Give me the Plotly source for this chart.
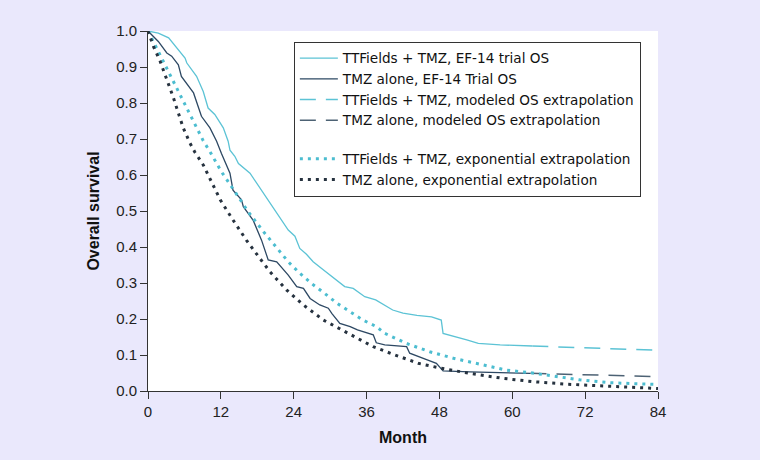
import plotly.graph_objects as go

# ---- data ----
ttf_trial_month = [0, 1.7, 3.4, 5.0, 5.8, 6.1, 6.4, 8.0, 9.1, 9.9, 11.0, 12.4, 13.2, 13.5, 14.3, 14.9,
                   16.8, 18.2, 19.5, 20.6, 21.7, 23.1, 24.2, 25.0, 26.1, 27.2, 28.6, 30.0, 31.4, 32.4,
                   33.8, 35.0, 35.7, 37.5, 39.5, 40.3, 42.0, 44.3, 46.7, 48.1, 48.3, 48.6, 50.8, 52.5,
                   54.4, 58.0, 63.3]
ttf_trial_os = [1.0, 0.994, 0.981, 0.948, 0.93, 0.925, 0.911, 0.874, 0.832, 0.786, 0.768, 0.731, 0.694,
                0.669, 0.652, 0.632, 0.605, 0.57, 0.54, 0.51, 0.484, 0.447, 0.43, 0.396, 0.38, 0.359,
                0.34, 0.322, 0.305, 0.29, 0.285, 0.27, 0.262, 0.253, 0.234, 0.225, 0.216, 0.21, 0.206,
                0.2, 0.197, 0.16, 0.151, 0.142, 0.132, 0.128, 0.125]

tmz_trial_month = [0, 1.7, 3.1, 3.9, 5.0, 5.5, 7.5, 8.8, 10.2, 11.3, 12.1, 13.5, 14.0, 15.4, 15.7,
                   17.3, 18.7, 19.3, 19.8, 21.2, 23.1, 24.5, 25.6, 26.7, 28.3, 29.7, 30.3, 31.6, 33.3,
                   34.5, 36.0, 37.1, 37.6, 39.0, 42.6, 43.1, 46.1, 47.5, 48.6, 53.0, 63.0]
tmz_trial_os = [1.0, 0.971, 0.939, 0.93, 0.906, 0.874, 0.828, 0.763, 0.731, 0.694, 0.66, 0.605, 0.558,
                0.531, 0.512, 0.475, 0.419, 0.387, 0.364, 0.359, 0.322, 0.29, 0.285, 0.257, 0.239,
                0.23, 0.215, 0.188, 0.179, 0.17, 0.162, 0.156, 0.134, 0.128, 0.123, 0.105, 0.086,
                0.077, 0.056, 0.053, 0.049]

ttf_model_month = [63.3, 73.0, 84.0]
ttf_model_os = [0.125, 0.119, 0.113]

tmz_model_month = [63.0, 73.0, 84.0]
tmz_model_os = [0.049, 0.045, 0.040]

ttf_exp_month = [0, 1.5, 3.0, 4.5, 6.4, 8.1, 9.1, 10.2, 12.1, 14.3, 16.5, 19.0, 21.4, 23.1, 25.0, 26.9,
                 29.1, 31.1, 33.3, 35.4, 37.6, 39.0, 42.6, 46.4, 50.3, 54.1, 59.0, 62.9, 66.7, 71.1,
                 76.0, 84.0]
ttf_exp_os = [1.0, 0.95, 0.898, 0.848, 0.785, 0.727, 0.695, 0.665, 0.609, 0.554, 0.498, 0.443, 0.394,
              0.359, 0.327, 0.299, 0.271, 0.244, 0.22, 0.197, 0.179, 0.16, 0.132, 0.109, 0.091, 0.077,
              0.058, 0.051, 0.042, 0.031, 0.023, 0.018]

tmz_exp_month = [0, 0.9, 2.0, 3.35, 4.2, 5.0, 5.8, 6.9, 7.7, 9.1, 10.2, 11.9, 14.0, 16.2, 18.4, 20.1,
                 22.8, 25.6, 28.9, 32.1, 34.6, 37.1, 40.7, 44.5, 48.3, 53.0, 58.5, 63.4, 68.9, 75.5, 84.0]
tmz_exp_os = [1.0, 0.957, 0.916, 0.856, 0.814, 0.772, 0.731, 0.689, 0.664, 0.628, 0.591, 0.531, 0.475,
              0.419, 0.369, 0.331, 0.281, 0.239, 0.197, 0.169, 0.146, 0.123, 0.1, 0.077, 0.063, 0.049,
              0.035, 0.026, 0.019, 0.014, 0.007]

x_ticks = [0, 12, 24, 36, 48, 60, 72, 84]

# ---- styles ----
BG = "#eae8fc"
CYAN = "#5cc3d5"
NAVY = "#2d4863"
CYAN_DOT = "#4cbdd0"
NAVY_DOT = "#26323f"
NAVY_DASH = "#4d6274"
FONT = "Liberation Sans, Arial, Helvetica, sans-serif"
LEGEND_FONT = "DejaVu Sans, Liberation Sans, Arial, sans-serif"

fig = go.Figure()
fig.add_trace(go.Scatter(x=ttf_trial_month, y=ttf_trial_os, mode="lines",
                         name="TTFields + TMZ, EF-14 trial OS", legendgroup="a",
                         line=dict(color=CYAN, width=1.3)))
fig.add_trace(go.Scatter(x=tmz_trial_month, y=tmz_trial_os, mode="lines",
                         name="TMZ alone, EF-14 Trial OS", legendgroup="a",
                         line=dict(color=NAVY, width=1.3)))
fig.add_trace(go.Scatter(x=ttf_model_month, y=ttf_model_os, mode="lines",
                         name="TTFields + TMZ, modeled OS extrapolation", legendgroup="a",
                         line=dict(color=CYAN, width=1.5, dash="16px,10px")))
fig.add_trace(go.Scatter(x=tmz_model_month, y=tmz_model_os, mode="lines",
                         name="TMZ alone, modeled OS extrapolation", legendgroup="a",
                         line=dict(color=NAVY_DASH, width=1.5, dash="16px,10px")))
fig.add_trace(go.Scatter(x=ttf_exp_month, y=ttf_exp_os, mode="lines",
                         name="TTFields + TMZ, exponential extrapolation", legendgroup="b",
                         line=dict(color=CYAN_DOT, width=3, dash="3px,5px")))
fig.add_trace(go.Scatter(x=tmz_exp_month, y=tmz_exp_os, mode="lines",
                         name="TMZ alone, exponential extrapolation", legendgroup="b",
                         line=dict(color=NAVY_DOT, width=3, dash="3px,5px")))

fig.update_layout(
    width=760, height=460,
    margin=dict(l=148, r=102, t=31, b=69),
    paper_bgcolor=BG,
    plot_bgcolor="#ffffff",
    font=dict(family=FONT, size=15, color="#222222"),
    showlegend=True,
    legend=dict(x=0.286, y=0.97, xanchor="left", yanchor="top",
                bgcolor="#ffffff", bordercolor="#333333", borderwidth=1,
                font=dict(family=LEGEND_FONT, size=13.6, color="#111111"),
                itemwidth=38,
                traceorder="grouped", tracegroupgap=18),
    xaxis=dict(range=[0, 84], tickvals=x_ticks, ticktext=[str(v) for v in x_ticks],
               showline=True, linecolor="#333333", linewidth=1,
               ticks="outside", ticklen=7, tickcolor="#333333",
               showgrid=False, zeroline=False,
               tickfont=dict(size=15, color="#222222"),
               title=dict(text="<b>Month</b>", font=dict(size=16, color="#111111"), standoff=12)),
    yaxis=dict(range=[0, 1.0], dtick=0.1, tickformat=".1f",
               showline=True, linecolor="#333333", linewidth=1,
               ticks="outside", ticklen=7, tickcolor="#333333",
               showgrid=False, zeroline=False,
               tickfont=dict(size=15, color="#222222"),
               title=dict(text="<b>Overall survival</b>", font=dict(size=16, color="#111111"), standoff=12)),
)

fig.write_html(
    "out.html",
    config={"displayModeBar": False},
    post_script="document.body.style.margin='0';document.body.style.background='" + BG + "';",
)
